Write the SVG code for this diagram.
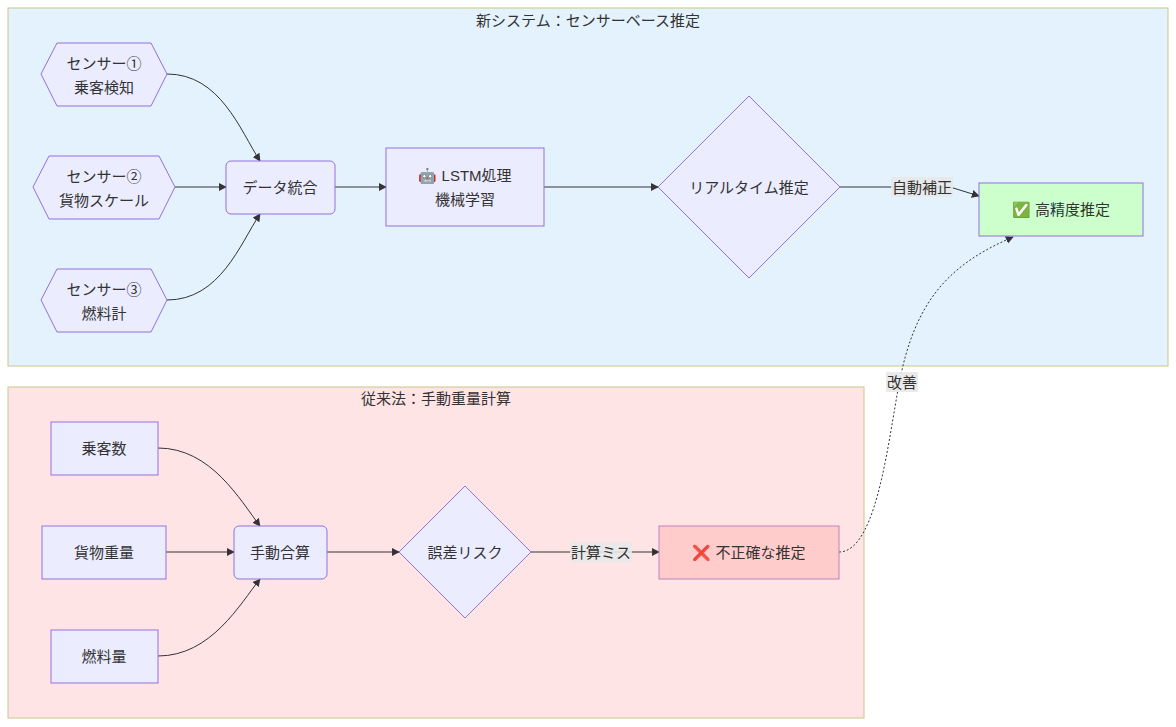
<svg xmlns="http://www.w3.org/2000/svg" width="1176" height="727" viewBox="0 0 1176 727">
<style>
text{font-family:"Liberation Sans","Noto Sans CJK JP",sans-serif;font-size:15px;fill:#333;text-anchor:middle;dominant-baseline:central}
.n{fill:#ececff;stroke:#9370db;stroke-width:1}
.e{fill:none;stroke:#333;stroke-width:1}
.lbl{fill:#e8e8e8;opacity:0.9}
</style>
<defs><marker id="a" viewBox="0 0 10 10" refX="9" refY="5" markerWidth="8" markerHeight="8" orient="auto"><path d="M0,0L10,5L0,10z" fill="#333"/></marker></defs>
<g id="cluster-new"><rect x="8" y="8" width="1160" height="358" fill="#e3f2fd" stroke="#c8c88a"/><text x="588" y="20">新システム：センサーベース推定</text></g>
<g id="cluster-old"><rect x="8" y="387" width="856" height="331" fill="#ffe4e6" stroke="#c8c88a"/><text x="436" y="398">従来法：手動重量計算</text></g>
<g id="edges">
<path class="e" d="M167,74 C220,74 240,130 260,161" marker-end="url(#a)"/>
<path class="e" d="M175,187 L226,187" marker-end="url(#a)"/>
<path class="e" d="M167,300 C220,300 240,244 260,214" marker-end="url(#a)"/>
<path class="e" d="M335,187 L386,187" marker-end="url(#a)"/>
<path class="e" d="M544,187 L658,187" marker-end="url(#a)"/>
<path class="e" d="M840,187 L950,187 L979,196" marker-end="url(#a)"/>
<path class="e" d="M158,448 C211,448 240,500 260,526" marker-end="url(#a)"/>
<path class="e" d="M166,552 L234,552" marker-end="url(#a)"/>
<path class="e" d="M158,656 C211,656 240,604 260,579" marker-end="url(#a)"/>
<path class="e" d="M327,552 L399,552" marker-end="url(#a)"/>
<path class="e" d="M531,552 L659,552" marker-end="url(#a)"/>
<path class="e" d="M839,552 C880,552 890,420 902,370 C920,290 960,260 1013,237" stroke-dasharray="2,2" marker-end="url(#a)"/>
<rect class="lbl" x="891" y="177" width="62" height="20"/><text x="922" y="187">自動補正</text>
<rect class="lbl" x="570" y="542" width="62" height="20"/><text x="601" y="552">計算ミス</text>
<rect class="lbl" x="886" y="372" width="32" height="20"/><text x="902" y="382">改善</text>
</g>
<g id="s1"><polygon class="n" points="57,43 151,43 167,74 151,106 57,106 41,74"/><text x="104" y="63">センサー①</text><text x="104" y="87">乗客検知</text></g>
<g id="s2"><polygon class="n" points="49,156 159,156 175,187 159,219 49,219 33,187"/><text x="104" y="176">センサー②</text><text x="104" y="200">貨物スケール</text></g>
<g id="s3"><polygon class="n" points="57,269 151,269 167,300 151,332 57,332 41,300"/><text x="104" y="289">センサー③</text><text x="104" y="313">燃料計</text></g>
<g id="merge"><rect class="n" x="226" y="161" width="109" height="53" rx="5"/><text x="280" y="187">データ統合</text></g>
<g id="lstm"><rect class="n" x="386" y="148" width="158" height="78"/><text x="465" y="175">🤖 LSTM処理</text><text x="465" y="199">機械学習</text></g>
<g id="rt"><polygon class="n" points="749,96 840,187 749,278 658,187"/><text x="749" y="187">リアルタイム推定</text></g>
<g id="good"><rect x="979" y="183" width="164" height="53" fill="#ccffcc" stroke="#9370db"/><text x="1061" y="209">✅ 高精度推定</text></g>
<g id="p"><rect class="n" x="51" y="422" width="107" height="53"/><text x="104" y="448">乗客数</text></g>
<g id="c"><rect class="n" x="42" y="526" width="124" height="53"/><text x="104" y="552">貨物重量</text></g>
<g id="f"><rect class="n" x="51" y="630" width="107" height="53"/><text x="104" y="656">燃料量</text></g>
<g id="sum"><rect class="n" x="234" y="526" width="93" height="53" rx="5"/><text x="280" y="552">手動合算</text></g>
<g id="risk"><polygon class="n" points="465,486 531,552 465,618 399,552"/><text x="465" y="552">誤差リスク</text></g>
<g id="bad"><rect x="659" y="526" width="180" height="53" fill="#ffcccc" stroke="#c080c0"/><text x="749" y="552">❌ 不正確な推定</text></g>
</svg>
